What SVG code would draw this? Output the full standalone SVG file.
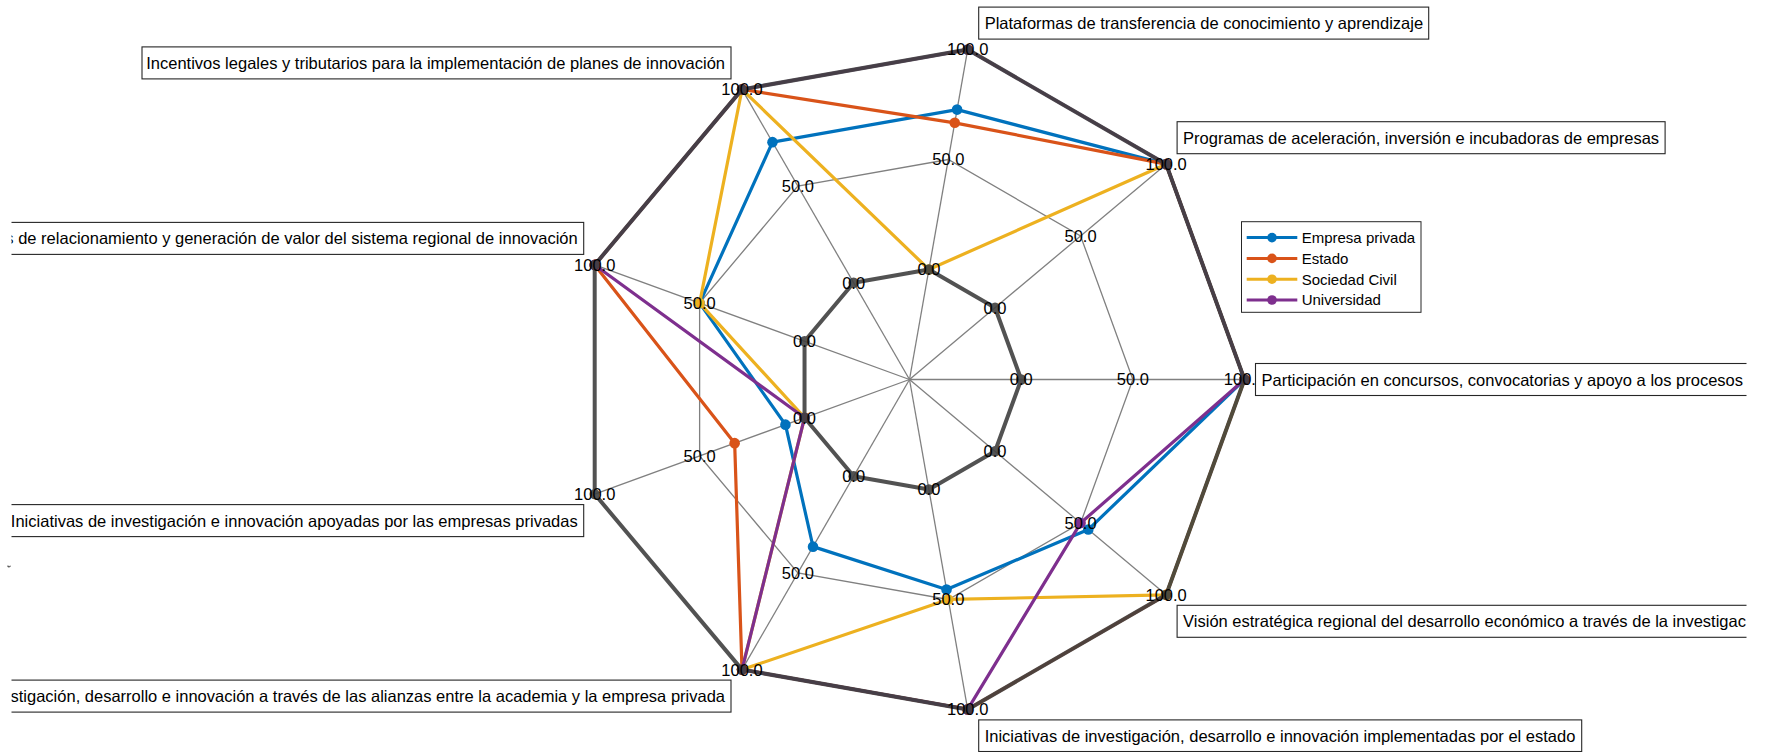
<svg xmlns="http://www.w3.org/2000/svg" width="1767" height="752" viewBox="0 0 1767 752">
<style>
.grid{fill:none;stroke:#808080;stroke-width:1.3}
.ser{fill:none;stroke-width:3.2;stroke-linejoin:round}
.ring{fill:none;stroke:#404040;stroke-width:4;stroke-linejoin:round}
.val{font-family:"Liberation Sans",Arial,sans-serif;font-size:16.5px;fill:#000;text-anchor:middle}
.box{fill:#fff;stroke:#262626;stroke-width:1.1}
.lbl{font-family:"Liberation Sans",Arial,sans-serif;font-size:16.5px;fill:#000}
.end{text-anchor:end}
.leg{font-family:"Liberation Sans",Arial,sans-serif;font-size:15px;fill:#000}
</style>
<defs>
<clipPath id="clip"><rect x="11.5" y="0" width="1735" height="752"/></clipPath>
<marker id="mB" markerWidth="12" markerHeight="12" refX="6" refY="6" markerUnits="userSpaceOnUse"><circle cx="6" cy="6" r="5.3" fill="#0072BD"/></marker>
<marker id="mO" markerWidth="12" markerHeight="12" refX="6" refY="6" markerUnits="userSpaceOnUse"><circle cx="6" cy="6" r="5.3" fill="#D95319"/></marker>
<marker id="mY" markerWidth="12" markerHeight="12" refX="6" refY="6" markerUnits="userSpaceOnUse"><circle cx="6" cy="6" r="5.3" fill="#EDB120"/></marker>
<marker id="mP" markerWidth="12" markerHeight="12" refX="6" refY="6" markerUnits="userSpaceOnUse"><circle cx="6" cy="6" r="5.3" fill="#7E2F8E"/></marker>
<marker id="mG" markerWidth="12" markerHeight="12" refX="6" refY="6" markerUnits="userSpaceOnUse"><circle cx="6" cy="6" r="5.2" fill="#404040"/></marker>
</defs>
<rect width="1767" height="752" fill="#fff"/>
<g clip-path="url(#clip)">
<g id="grid">
<line class="grid" x1="909.5" y1="379.5" x2="1244.5" y2="379.5"/>
<line class="grid" x1="909.5" y1="379.5" x2="1166.12" y2="164.17"/>
<line class="grid" x1="909.5" y1="379.5" x2="967.67" y2="49.59"/>
<line class="grid" x1="909.5" y1="379.5" x2="742" y2="89.38"/>
<line class="grid" x1="909.5" y1="379.5" x2="594.7" y2="264.92"/>
<line class="grid" x1="909.5" y1="379.5" x2="594.7" y2="494.08"/>
<line class="grid" x1="909.5" y1="379.5" x2="742" y2="669.62"/>
<line class="grid" x1="909.5" y1="379.5" x2="967.67" y2="709.41"/>
<line class="grid" x1="909.5" y1="379.5" x2="1166.12" y2="594.83"/>
<polygon class="grid" points="1132.85,379.5 1080.59,235.93 948.28,159.54 797.82,186.07 699.62,303.11 699.62,455.89 797.82,572.93 948.28,599.46 1080.59,523.07"/>
</g>
<g id="connectors">
<g id="serie-empresa-privada">
<polygon class="ser" stroke="#0072BD" marker-start="url(#mB)" marker-mid="url(#mB)" points="1244.5,379.5 1166.12,164.17 957.09,109.62 772.48,142.17 699.62,303.11 785.44,424.65 813.01,546.63 946.54,589.56 1088.29,529.53"/>
</g>
<g id="serie-estado">
<polygon class="ser" stroke="#D95319" marker-start="url(#mO)" marker-mid="url(#mO)" points="1244.5,379.5 1166.12,164.17 954.76,122.82 742,89.38 594.7,264.92 734.66,443.14 742,669.62 967.67,709.41 1166.12,594.83"/>
</g>
<g id="serie-sociedad-civil">
<polygon class="ser" stroke="#EDB120" marker-start="url(#mY)" marker-mid="url(#mY)" points="1244.5,379.5 1166.12,164.17 928.9,269.5 742,89.38 699.62,303.11 804.54,417.7 742,669.62 948.28,599.46 1166.12,594.83"/>
</g>
<g id="serie-universidad">
<polygon class="ser" stroke="#7E2F8E" marker-start="url(#mP)" marker-mid="url(#mP)" points="1244.5,379.5 1166.12,164.17 967.67,49.59 742,89.38 594.7,264.92 804.54,417.7 742,669.62 967.67,709.41 1080.59,523.07"/>
</g>
<g id="rings" opacity="0.9">
<polygon class="ring" marker-start="url(#mG)" marker-mid="url(#mG)" points="1244.5,379.5 1166.12,164.17 967.67,49.59 742,89.38 594.7,264.92 594.7,494.08 742,669.62 967.67,709.41 1166.12,594.83"/>
<polygon class="ring" marker-start="url(#mG)" marker-mid="url(#mG)" points="1021.2,379.5 995.07,307.7 928.9,269.5 853.65,282.76 804.54,341.3 804.54,417.7 853.65,476.24 928.9,489.5 995.07,451.3"/>
</g>
</g>
<g id="valores">
<text class="val" x="1021.2" y="385.4">0.0</text>
<text class="val" x="995.07" y="313.6">0.0</text>
<text class="val" x="928.9" y="275.4">0.0</text>
<text class="val" x="853.65" y="288.66">0.0</text>
<text class="val" x="804.54" y="347.2">0.0</text>
<text class="val" x="804.54" y="423.6">0.0</text>
<text class="val" x="853.65" y="482.14">0.0</text>
<text class="val" x="928.9" y="495.4">0.0</text>
<text class="val" x="995.07" y="457.2">0.0</text>
<text class="val" x="1132.85" y="385.4">50.0</text>
<text class="val" x="1080.59" y="241.83">50.0</text>
<text class="val" x="948.28" y="165.44">50.0</text>
<text class="val" x="797.82" y="191.97">50.0</text>
<text class="val" x="699.62" y="309.01">50.0</text>
<text class="val" x="699.62" y="461.79">50.0</text>
<text class="val" x="797.82" y="578.83">50.0</text>
<text class="val" x="948.28" y="605.36">50.0</text>
<text class="val" x="1080.59" y="528.97">50.0</text>
<text class="val" x="1244.5" y="385.4">100.0</text>
<text class="val" x="1166.12" y="170.07">100.0</text>
<text class="val" x="967.67" y="55.49">100.0</text>
<text class="val" x="742" y="95.28">100.0</text>
<text class="val" x="594.7" y="270.82">100.0</text>
<text class="val" x="594.7" y="499.98">100.0</text>
<text class="val" x="742" y="675.52">100.0</text>
<text class="val" x="967.67" y="715.31">100.0</text>
<text class="val" x="1166.12" y="600.73">100.0</text>
</g>
<g id="eje-participacion">
<rect class="box" x="1255.5" y="363.5" width="500" height="32"/>
<text class="lbl" x="1261.5" y="385.5">Participación en concursos, convocatorias y apoyo a los procesos</text>
</g>
<g id="eje-programas">
<rect class="box" x="1177.1" y="121.7" width="488" height="32"/>
<text class="lbl" x="1183.1" y="143.7">Programas de aceleración, inversión e incubadoras de empresas</text>
</g>
<g id="eje-plataformas">
<rect class="box" x="978.7" y="7.1" width="450" height="32"/>
<text class="lbl" x="984.7" y="29.1">Plataformas de transferencia de conocimiento y aprendizaje</text>
</g>
<g id="eje-incentivos">
<rect class="box" x="142" y="46.9" width="589" height="32"/>
<text class="lbl end" x="725" y="68.9">Incentivos legales y tributarios para la implementación de planes de innovación</text>
</g>
<g id="eje-relacionamiento">
<rect class="box" x="-5" y="222.4" width="588.7" height="32"/>
<text class="lbl end" x="577.7" y="244.4">s de relacionamiento y generación de valor del sistema regional de innovación</text>
</g>
<g id="eje-empresas-privadas">
<rect class="box" x="5" y="504.6" width="578.7" height="32"/>
<text class="lbl end" x="577.7" y="526.6">Iniciativas de investigación e innovación apoyadas por las empresas privadas</text>
</g>
<g id="eje-alianzas">
<rect class="box" x="-10" y="680.1" width="741" height="32"/>
<text class="lbl end" x="725" y="702.1">stigación, desarrollo e innovación a través de las alianzas entre la academia y la empresa privada</text>
</g>
<g id="eje-estado">
<rect class="box" x="978.7" y="719.9" width="603" height="31.6"/>
<text class="lbl" x="984.7" y="741.9">Iniciativas de investigación, desarrollo e innovación implementadas por el estado</text>
</g>
<g id="eje-vision">
<rect class="box" x="1177.1" y="605.3" width="700" height="32"/>
<text class="lbl" x="1183.1" y="627.3">Visión estratégica regional del desarrollo económico a través de la investigac</text>
</g>
</g>
<path d="M7.6 565.6 q1.4 2.6 2.9 0.2" fill="none" stroke="#555" stroke-width="1.2"/>
<g id="leyenda">
<rect x="1241.5" y="221.7" width="179.5" height="90.6" fill="#fff" stroke="#262626" stroke-width="1"/>
<line x1="1246.7" y1="237.6" x2="1297.3" y2="237.6" stroke="#0072BD" stroke-width="3"/>
<circle cx="1272" cy="237.6" r="4.8" fill="#0072BD"/>
<text class="leg" x="1301.7" y="243">Empresa privada</text>
<line x1="1246.7" y1="258.4" x2="1297.3" y2="258.4" stroke="#D95319" stroke-width="3"/>
<circle cx="1272" cy="258.4" r="4.8" fill="#D95319"/>
<text class="leg" x="1301.7" y="263.8">Estado</text>
<line x1="1246.7" y1="279.2" x2="1297.3" y2="279.2" stroke="#EDB120" stroke-width="3"/>
<circle cx="1272" cy="279.2" r="4.8" fill="#EDB120"/>
<text class="leg" x="1301.7" y="284.6">Sociedad Civil</text>
<line x1="1246.7" y1="300" x2="1297.3" y2="300" stroke="#7E2F8E" stroke-width="3"/>
<circle cx="1272" cy="300" r="4.8" fill="#7E2F8E"/>
<text class="leg" x="1301.7" y="305.4">Universidad</text>
</g>
</svg>
